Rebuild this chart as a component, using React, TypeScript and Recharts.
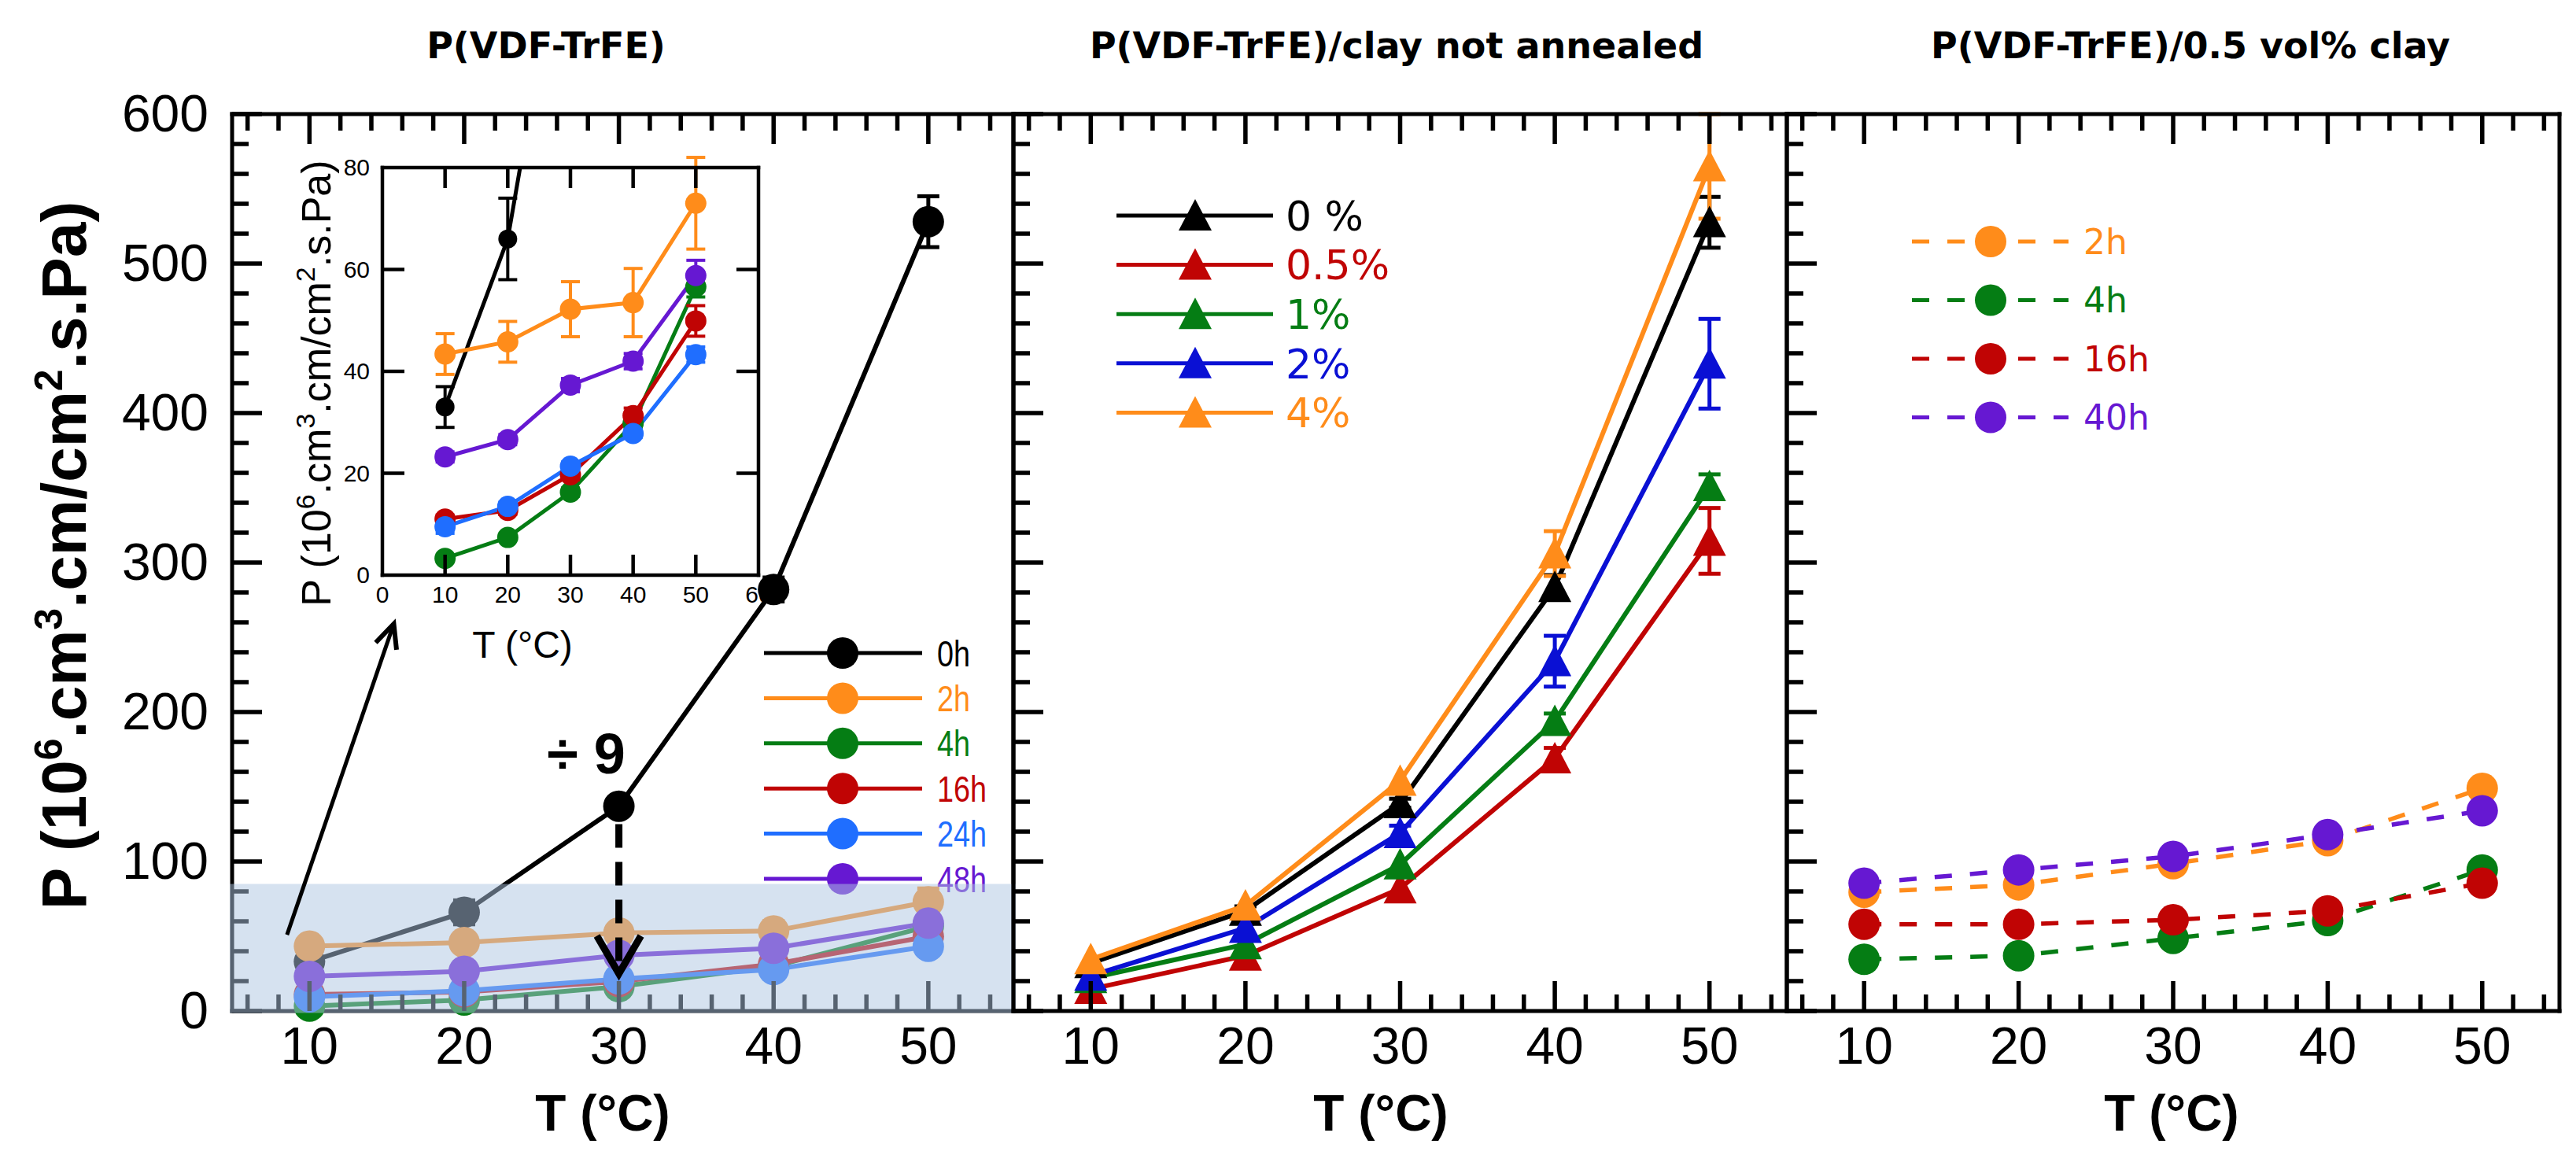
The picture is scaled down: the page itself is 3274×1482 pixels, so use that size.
import React from "react"
import { LineChart, Line, XAxis, YAxis, ErrorBar, ReferenceArea, ReferenceLine, Legend } from "recharts"

const W = 3274
const H = 1482

const temps = [10, 20, 30, 40, 50]

// P(VDF-TrFE) neat, annealing time (main panel and inset share the values)
const neat0h = [33, 66, 137, 282, 528]
const neat0hErr = [4, 8, 0, 8, 17]
const neat2h = [43.4, 45.8, 52.2, 53.5, 73]
const neat2hErr = [4, 4, 5.4, 6.7, 9]
const neat4h = [3.3, 7.4, 16.3, 29.8, 56.6]
const neat4hErr = [0, 0, 0.8, 1, 2]
const neat16h = [11, 12.7, 19.7, 31.3, 49.9]
const neat16hErr = [0.8, 0.8, 1, 1.5, 3]
const neat24h = [9.5, 13.5, 21.4, 27.8, 43.3]
const neat24hErr = [1.3, 0.8, 0.8, 0.8, 1.5]
const neat48h = [23.2, 26.6, 37.3, 42, 58.8]
const neat48hErr = [1, 1, 1.3, 1.5, 3]

// P(VDF-TrFE)/clay not annealed
const clay0 = [32, 67, 139, 283.6, 527.6]
const clay0Err = [0, 3, 3, 8, 17]
const clay05 = [14.7, 37, 82, 169, 314.5]
const clay05Err = [0, 0, 0, 7, 22]
const clay1 = [22, 44.6, 98, 194, 351]
const clay1Err = [0, 0, 0, 5, 8]
const clay2 = [23.6, 55.5, 119, 234, 433]
const clay2Err = [0, 0, 5, 17, 30]
const clay4 = [34.6, 70.5, 154, 306, 565]
const clay4Err = [0, 0, 0, 15, 35]

// P(VDF-TrFE)/0.5 vol% clay, annealed
const ann2h = [79.5, 84.4, 98.5, 114, 149]
const ann4h = [34.6, 37, 48.6, 60.5, 94.4]
const ann16h = [58, 58, 61, 67, 85.5]
const ann40h = [85.5, 94.4, 103.4, 118, 134]

const xTicks = [6, 8, 10, 12, 14, 16, 18, 20, 22, 24, 26, 28, 30, 32, 34, 36, 38, 40, 42, 44, 46, 48, 50, 52, 54]
const yTicks = [0, 20, 40, 60, 80, 100, 120, 140, 160, 180, 200, 220, 240, 260, 280, 300, 320, 340, 360, 380, 400, 420, 440, 460, 480, 500, 520, 540, 560, 580, 600]
const insetXTicks = [0, 10, 20, 30, 40, 50, 60]
const insetYTicks = [0, 20, 40, 60, 80]

const neatSeries = [
  { key: "h0", name: "0h", color: "#000000", values: neat0h, err: neat0hErr },
  { key: "h2", name: "2h", color: "#ff8c1a", values: neat2h, err: neat2hErr },
  { key: "h4", name: "4h", color: "#057d14", values: neat4h, err: neat4hErr },
  { key: "h16", name: "16h", color: "#c00404", values: neat16h, err: neat16hErr },
  { key: "h24", name: "24h", color: "#1f6eff", values: neat24h, err: neat24hErr },
  { key: "h48", name: "48h", color: "#6618d2", values: neat48h, err: neat48hErr },
]

const claySeries = [
  { key: "c0", name: "0 %", color: "#000000", values: clay0, err: clay0Err },
  { key: "c05", name: "0.5%", color: "#c00404", values: clay05, err: clay05Err },
  { key: "c1", name: "1%", color: "#057d14", values: clay1, err: clay1Err },
  { key: "c2", name: "2%", color: "#0a10d4", values: clay2, err: clay2Err },
  { key: "c4", name: "4%", color: "#ff8c1a", values: clay4, err: clay4Err },
]

const annSeries = [
  { key: "a2", name: "2h", color: "#ff8c1a", values: ann2h },
  { key: "a4", name: "4h", color: "#057d14", values: ann4h },
  { key: "a16", name: "16h", color: "#c00404", values: ann16h },
  { key: "a40", name: "40h", color: "#6618d2", values: ann40h },
]

function buildRows(series: { key: string; values: number[]; err?: number[] }[]) {
  return temps.map((t, i) => {
    const row: Record<string, number> = { t }
    series.forEach((s) => {
      row[s.key] = s.values[i]
      if (s.err) row[s.key + "Err"] = s.err[i]
    })
    return row
  })
}

const neatRows = buildRows(neatSeries)
const clayRows = buildRows(claySeries)
const annRows = buildRows(annSeries)

const SANS = "'Liberation Sans', Arial, Helvetica, sans-serif"
const WIDE = "'DejaVu Sans', Verdana, sans-serif"

// inward ticks on every side of the frame, long ones on the major values
function FrameTick(props: any) {
  const { x = 0, y = 0, payload, side, majorEvery, majorLen, minorLen, label, fontSize = 66, labelGap = 0, sw = 5, skip = [] } = props
  const v = payload ? payload.value : 0
  const q = v / majorEvery
  const major = Math.abs(q - Math.round(q)) < 1e-6
  const len = major ? majorLen : minorLen
  let x2 = x
  let y2 = y
  if (side === "bottom") y2 = y - len
  if (side === "top") y2 = y + len
  if (side === "left") x2 = x + len
  if (side === "right") x2 = x - len
  let text = null
  if (label && major && side === "bottom") {
    text = (
      <text x={x} y={y + labelGap} textAnchor="middle" fontFamily={SANS} fontSize={fontSize} fill="#000">
        {v}
      </text>
    )
  }
  if (label && major && side === "left") {
    text = (
      <text x={x - labelGap} y={y + fontSize * 0.34} textAnchor="end" fontFamily={SANS} fontSize={fontSize} fill="#000">
        {v}
      </text>
    )
  }
  return (
    <g>
      {!skip.includes(v) && <line x1={x} y1={y} x2={x2} y2={y2} stroke="#000" strokeWidth={sw} />}
      {text}
    </g>
  )
}

const frameLine = { stroke: "#000", strokeWidth: 5, strokeLinecap: "square" as const }

function panelAxes(domain: [number, number], yLabels: boolean) {
  const common = { majorLen: 38, minorLen: 21, sw: 5.5 }
  return [
    <XAxis key="xb" dataKey="t" type="number" domain={domain} ticks={xTicks} interval={0} height={1} tickSize={0} tickMargin={0} tickLine={false} axisLine={frameLine} allowDataOverflow
      tick={<FrameTick side="bottom" majorEvery={10} label labelGap={67} {...common} />} />,
    <XAxis key="xt" xAxisId="top" orientation="top" dataKey="t" type="number" domain={domain} ticks={xTicks} interval={0} height={1} tickSize={0} tickMargin={0} tickLine={false} axisLine={frameLine} allowDataOverflow
      tick={<FrameTick side="top" majorEvery={10} {...common} />} />,
    <YAxis key="yl" type="number" domain={[0, 600]} ticks={yTicks} interval={0} width={1} tickSize={0} tickMargin={0} tickLine={false} axisLine={frameLine}
      tick={<FrameTick side="left" majorEvery={100} label={yLabels} labelGap={30} {...common} />} />,
    <YAxis key="yr" yAxisId="right" orientation="right" type="number" domain={[0, 600]} ticks={yTicks} interval={0} width={1} tickSize={0} tickMargin={0} tickLine={false} axisLine={frameLine}
      tick={<FrameTick side="right" majorEvery={100} {...common} />} />,
  ]
}

function TriangleDot(props: any) {
  const { cx, cy, tri } = props
  if (cx == null || cy == null) return null
  return <polygon points={`${cx},${cy - 21} ${cx + 21},${cy + 19} ${cx - 21},${cy + 19}`} fill={tri} />
}

type LegendCfg = {
  w: number
  h: number
  y0: number
  step: number
  x1: number
  x2: number
  mx: number
  tx: number
  font: string
  size: number
  dash?: string
  shape: "circle" | "triangle"
  narrow?: boolean
  order: string[]
}

function makeLegend(cfg: LegendCfg) {
  return function LegendContent(props: any) {
    const items = [...(props.payload || [])].sort(
      (a: any, b: any) => cfg.order.indexOf(String(a.value)) - cfg.order.indexOf(String(b.value))
    )
    return (
      <svg width={cfg.w} height={cfg.h} style={{ overflow: "visible", display: "block" }}>
        {items.map((it: any, i: number) => {
          const cy = cfg.y0 + i * cfg.step
          const c = it.color
          const label = String(it.value)
          return (
            <g key={label}>
              <line x1={cfg.x1} x2={cfg.x2} y1={cy} y2={cy} stroke={c} strokeWidth={5} strokeDasharray={cfg.dash} />
              {cfg.shape === "circle" ? (
                <circle cx={cfg.mx} cy={cy} r={20} fill={c} />
              ) : (
                <polygon points={`${cfg.mx},${cy - 21} ${cfg.mx + 21},${cy + 19} ${cfg.mx - 21},${cy + 19}`} fill={c} />
              )}
              <text
                x={cfg.tx}
                y={cy + cfg.size * 0.36}
                fill={c}
                fontFamily={cfg.font}
                fontSize={cfg.size}
                textLength={cfg.narrow ? label.length * 21 : undefined}
                lengthAdjust={cfg.narrow ? "spacingAndGlyphs" : undefined}
              >
                {label}
              </text>
            </g>
          )
        })}
      </svg>
    )
  }
}

const leftLegend = makeLegend({ w: 330, h: 360, y0: 40, step: 57.4, x1: 21, x2: 222, mx: 121, tx: 241, font: "'Liberation Sans Narrow', 'Arial Narrow', 'Liberation Sans', sans-serif", size: 46, shape: "circle", narrow: true, order: neatSeries.map((s) => s.name) })
const midLegend = makeLegend({ w: 420, h: 340, y0: 44, step: 62.6, x1: 19, x2: 218, mx: 119, tx: 234, font: WIDE, size: 52, shape: "triangle", order: claySeries.map((s) => s.name) })
const rightLegend = makeLegend({ w: 400, h: 300, y0: 37, step: 74.5, x1: 20, x2: 219, mx: 120, tx: 238, font: WIDE, size: 44, shape: "circle", dash: "22 23", order: annSeries.map((s) => s.name) })

// plot frame edges in page pixels; the visible axes take 1px each
function frameMargin(left: number, top: number, right: number, bottom: number, axisPx = 1) {
  return { top: top - axisPx, left: left - axisPx, right: W - right - axisPx, bottom: H - bottom - axisPx }
}

const leftMargin = frameMargin(295, 145, 1288, 1285)
const leftOverlayMargin = frameMargin(295, 145, 1288, 1285, 0)
const midMargin = frameMargin(1288, 145, 2271, 1285)
const rightMargin = frameMargin(2271, 145, 3253, 1285)
const insetMargin = frameMargin(486, 213, 964, 731)

const layer: React.CSSProperties = { position: "absolute", left: 0, top: 0, pointerEvents: "none" }

function arrowShape(marker: string, width: number, dash?: string) {
  return (p: any) => (
    <line x1={p.x1} y1={p.y1} x2={p.x2} y2={p.y2} stroke="#000" strokeWidth={width} strokeDasharray={dash} markerEnd={`url(#${marker})`} />
  )
}

export default function App() {
  return (
    <div style={{ position: "absolute", left: 0, top: 0, width: W, height: H, background: "#fff", overflow: "hidden" }}>
      {/* left panel: neat copolymer */}
      <div style={layer}>
        <LineChart width={W} height={H} data={neatRows} margin={leftMargin}>
          {panelAxes([5, 55.5], true)}
          {neatSeries.map((s) => (
            <Line key={s.key} dataKey={s.key} name={s.name} type="linear" stroke={s.color} strokeWidth={6}
              dot={{ r: 20, fill: s.color, stroke: "none", strokeWidth: 0 }} activeDot={false} isAnimationActive={false}>
              <ErrorBar dataKey={s.key + "Err"} width={14} strokeWidth={5} stroke={s.color} direction="y" />
            </Line>
          ))}
          <Legend layout="vertical" align="center" verticalAlign="middle" width={330} height={360}
            wrapperStyle={{ left: 950, top: 790, width: 330, height: 360 }} content={leftLegend} />
        </LineChart>
      </div>

      {/* shaded zoom box and arrows over the left panel */}
      <div style={layer}>
        <LineChart width={W} height={H} data={neatRows} margin={leftOverlayMargin}>
          <XAxis dataKey="t" type="number" domain={[5, 55.5]} hide />
          <YAxis type="number" domain={[0, 600]} hide />
          <Line dataKey="h0" stroke="none" dot={false} activeDot={false} legendType="none" isAnimationActive={false} />
          <ReferenceArea x1={4.85} x2={55.65} y1={-1.3} y2={85} ifOverflow="visible" fill="rgb(173,197,225)" fillOpacity={0.5} stroke="none" />
          <ReferenceLine segment={[{ x: 8.55, y: 51 }, { x: 15.45, y: 259 }]} ifOverflow="visible" shape={arrowShape("arrowSmall", 5)} />
          <ReferenceLine segment={[{ x: 30, y: 125 }, { x: 30, y: 25 }]} ifOverflow="visible" shape={arrowShape("arrowBig", 9, "30 18")} />
        </LineChart>
      </div>

      {/* inset */}
      <div style={layer}>
        <LineChart width={W} height={H} data={neatRows} margin={insetMargin}>
          <XAxis dataKey="t" type="number" domain={[0, 60]} ticks={insetXTicks} interval={0} height={1} tickSize={0} tickMargin={0} tickLine={false}
            axisLine={{ ...frameLine, strokeWidth: 4.5 }}
            tick={<FrameTick side="bottom" majorEvery={10} majorLen={26} minorLen={26} label labelGap={35} fontSize={30} sw={4.5} skip={[0, 60]} />} />
          <XAxis xAxisId="top" orientation="top" dataKey="t" type="number" domain={[0, 60]} ticks={insetXTicks} interval={0} height={1} tickSize={0} tickMargin={0} tickLine={false}
            axisLine={{ ...frameLine, strokeWidth: 4.5 }}
            tick={<FrameTick side="top" majorEvery={10} majorLen={26} minorLen={26} sw={4.5} skip={[0, 60]} />} />
          <YAxis type="number" domain={[0, 80]} ticks={insetYTicks} interval={0} width={1} tickSize={0} tickMargin={0} tickLine={false} allowDataOverflow
            axisLine={{ ...frameLine, strokeWidth: 4.5 }}
            tick={<FrameTick side="left" majorEvery={20} majorLen={28} minorLen={28} label labelGap={16} fontSize={30} sw={4.5} skip={[0, 80]} />} />
          <YAxis yAxisId="right" orientation="right" type="number" domain={[0, 80]} ticks={insetYTicks} interval={0} width={1} tickSize={0} tickMargin={0} tickLine={false} allowDataOverflow
            axisLine={{ ...frameLine, strokeWidth: 4.5 }}
            tick={<FrameTick side="right" majorEvery={20} majorLen={28} minorLen={28} sw={4.5} skip={[0, 80]} />} />
          {neatSeries.map((s) => (
            <Line key={s.key} dataKey={s.key} name={s.name} type="linear" stroke={s.color} strokeWidth={5}
              dot={{ r: s.key === "h0" ? 12 : 13.5, fill: s.color, stroke: "none", strokeWidth: 0 }} activeDot={false} isAnimationActive={false}>
              <ErrorBar dataKey={s.key + "Err"} width={12} strokeWidth={4} stroke={s.color} direction="y" />
            </Line>
          ))}
        </LineChart>
      </div>

      {/* middle panel: clay not annealed */}
      <div style={layer}>
        <LineChart width={W} height={H} data={clayRows} margin={midMargin}>
          {panelAxes([5, 55], false)}
          {claySeries.map((s) => (
            <Line key={s.key} dataKey={s.key} name={s.name} type="linear" stroke={s.color} strokeWidth={6}
              dot={<TriangleDot tri={s.color} />} activeDot={false} isAnimationActive={false}>
              <ErrorBar dataKey={s.key + "Err"} width={14} strokeWidth={5} stroke={s.color} direction="y" />
            </Line>
          ))}
          <Legend layout="vertical" align="center" verticalAlign="middle" width={420} height={340}
            wrapperStyle={{ left: 1400, top: 230, width: 420, height: 340 }} content={midLegend} />
        </LineChart>
      </div>

      {/* right panel: 0.5 vol% clay annealed */}
      <div style={layer}>
        <LineChart width={W} height={H} data={annRows} margin={rightMargin}>
          {panelAxes([5, 55], false)}
          {annSeries.map((s) => (
            <Line key={s.key} dataKey={s.key} name={s.name} type="linear" stroke={s.color} strokeWidth={5.5} strokeDasharray="22 23"
              dot={{ r: 20, fill: s.color, stroke: "none", strokeWidth: 0, strokeDasharray: "0" }} activeDot={false} isAnimationActive={false} />
          ))}
          <Legend layout="vertical" align="center" verticalAlign="middle" width={400} height={300}
            wrapperStyle={{ left: 2410, top: 270, width: 400, height: 300 }} content={rightLegend} />
        </LineChart>
      </div>

      {/* titles, axis titles, annotation text */}
      <svg width={W} height={H} style={layer}>
        <defs>
          <marker id="arrowSmall" markerUnits="userSpaceOnUse" markerWidth={44} markerHeight={40} refX={36} refY={20} orient="auto">
            <path d="M 6 6 L 36 20 L 6 34" fill="none" stroke="#000" strokeWidth={6} />
          </marker>
          <marker id="arrowBig" markerUnits="userSpaceOnUse" markerWidth={72} markerHeight={72} refX={60} refY={36} orient="auto">
            <path d="M 12 8 L 60 36 L 12 64" fill="none" stroke="#000" strokeWidth={9} />
          </marker>
        </defs>
        <g fontFamily={WIDE} fontWeight="bold" fontSize={46} textAnchor="middle" fill="#000">
          <text x={694} y={74}>P(VDF-TrFE)</text>
          <text x={1775} y={74}>P(VDF-TrFE)/clay not annealed</text>
          <text x={2784} y={74}>P(VDF-TrFE)/0.5 vol% clay</text>
        </g>
        <g fontFamily={SANS} fontWeight="bold" fontSize={64} textAnchor="middle" fill="#000">
          <text x={766} y={1437}>T (°C)</text>
          <text x={1755} y={1437}>T (°C)</text>
          <text x={2760} y={1437}>T (°C)</text>
        </g>
        <text x={109} y={706} transform="rotate(-90 109 706)" textAnchor="middle" fontFamily={SANS} fontWeight="bold" fontSize={80} fill="#000">
          P (10<tspan dy={-30} fontSize={50}>6</tspan>
          <tspan dy={30}>.cm</tspan>
          <tspan dy={-30} fontSize={50}>3</tspan>
          <tspan dy={30}>.cm/cm</tspan>
          <tspan dy={-30} fontSize={50}>2</tspan>
          <tspan dy={30}>.s.Pa)</tspan>
        </text>
        <text x={420} y={487} transform="rotate(-90 420 487)" textAnchor="middle" fontFamily={SANS} fontSize={52} fill="#000">
          P (10<tspan dy={-20} fontSize={34}>6</tspan>
          <tspan dy={20}>.cm</tspan>
          <tspan dy={-20} fontSize={34}>3</tspan>
          <tspan dy={20}>.cm/cm</tspan>
          <tspan dy={-20} fontSize={34}>2</tspan>
          <tspan dy={20}>.s.Pa)</tspan>
        </text>
        <text x={664} y={836} textAnchor="middle" fontFamily={SANS} fontSize={48} fill="#000">T (°C)</text>
        <text x={745} y={983} textAnchor="middle" fontFamily={SANS} fontWeight="bold" fontSize={72} fill="#000">÷ 9</text>
      </svg>
    </div>
  )
}
